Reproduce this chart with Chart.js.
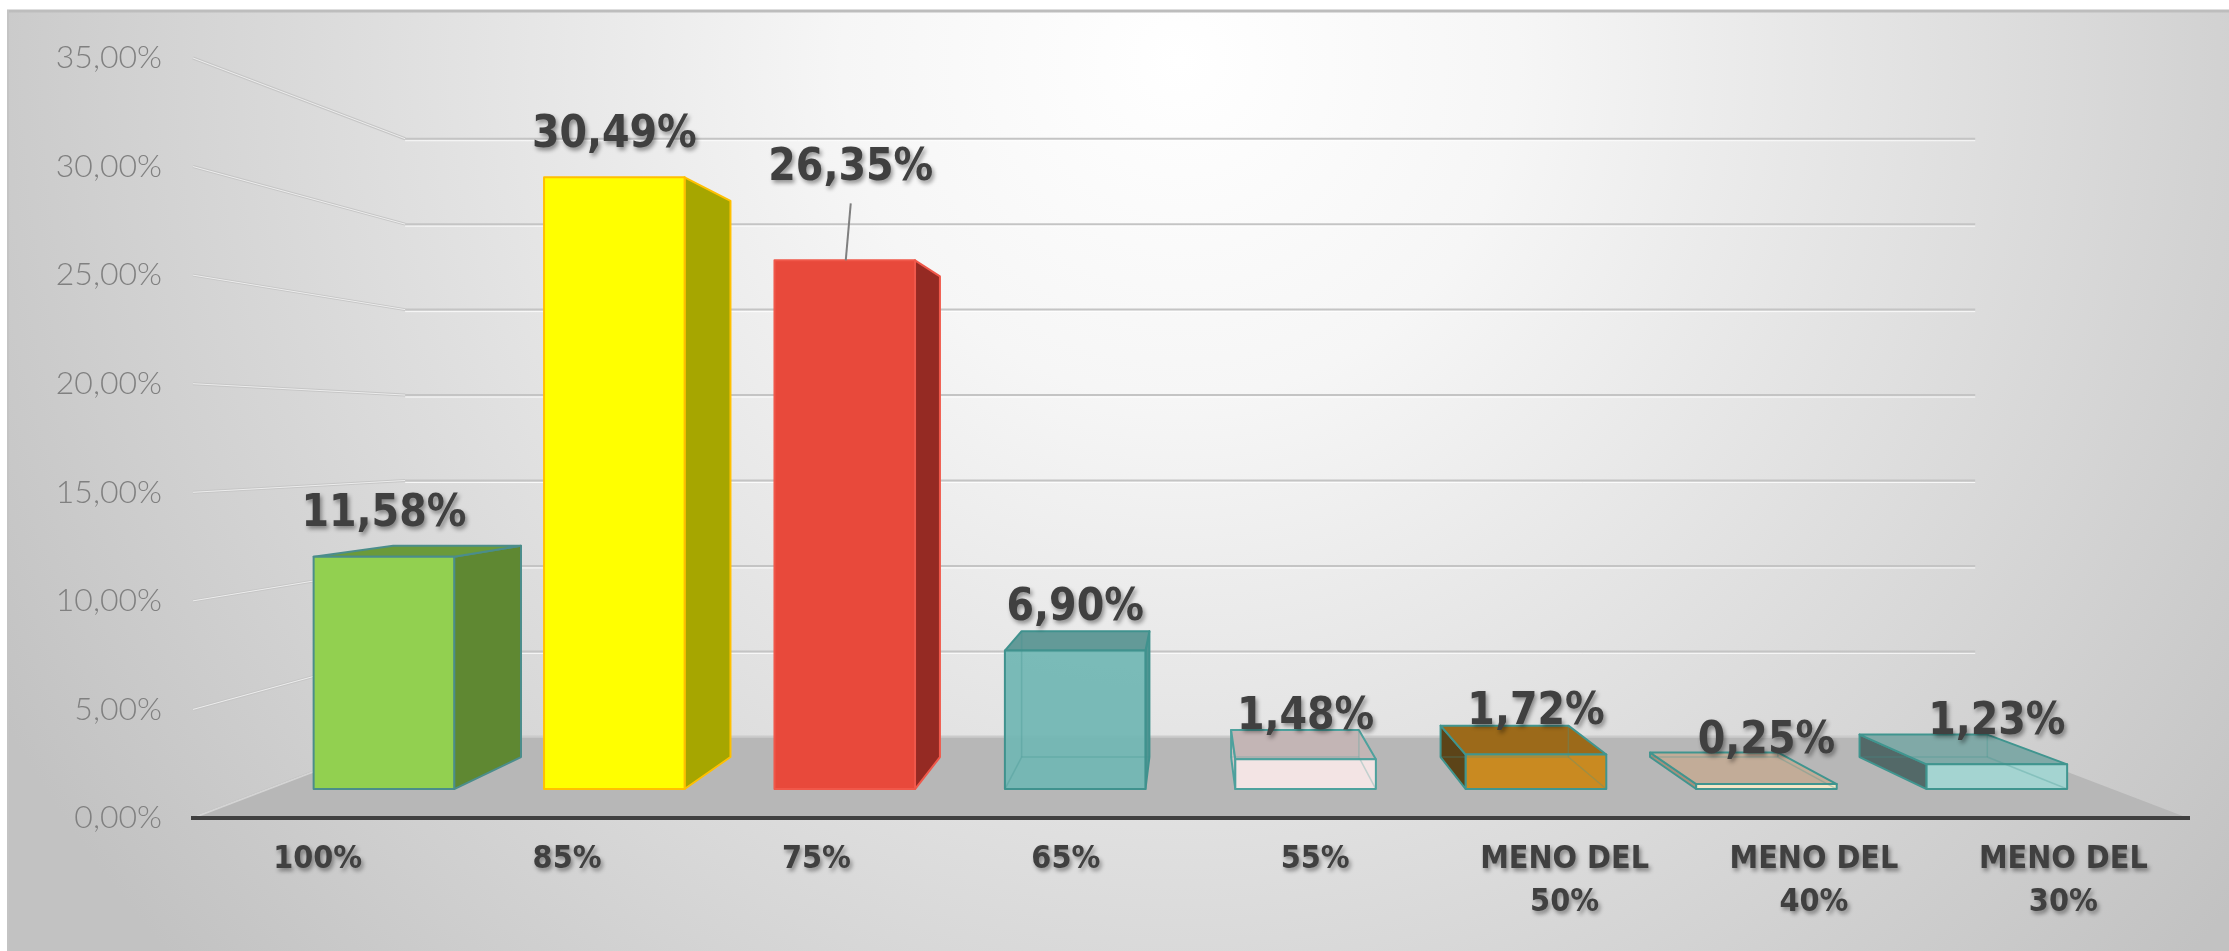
<!DOCTYPE html>
<html lang="it">
<head>
<meta charset="utf-8">
<title>Distribuzione percentuale</title>
<script src="https://cdn.jsdelivr.net/npm/chart.js@4.4.1/dist/chart.umd.min.js"></script>
<style>
  html, body { margin: 0; padding: 0; background: #ffffff; }
  #contenitore { position: relative; width: 2229px; height: 951px; }
</style>
</head>
<body>
<div id="contenitore"><canvas id="grafico"></canvas></div>
<script>
// dati
const categorie = ['100%', '85%', '75%', '65%', '55%', ['MENO DEL', '50%'], ['MENO DEL', '40%'], ['MENO DEL', '30%']];
const percentuali = [11.58, 30.49, 26.35, 6.90, 1.48, 1.72, 0.25, 1.23];
const tickY = [0, 5, 10, 15, 20, 25, 30, 35];

// colori delle barre (fronte, lato, sopra, bordo)
const coloriFronte = ['#92d050', '#ffff00', '#e8493b', 'rgba(112,182,179,0.92)', '#f3e4e4', '#c98a21', '#f6e6c6', '#a4d4d1'];
const coloriLato   = ['#5f8832', '#a6a600', '#952a23', '#4f9693', '#d2c4c4', '#5c4418', '#a8907c', '#536968'];
const coloriSopra  = ['#6b9a3a', '#c8c800', '#b83a30', '#639a98', '#c3b5b5', '#9c6a1a', '#c2ac98', '#80a9a7'];
const coloriBordo  = ['#4b8d8b', '#ffc000', '#f0584a', '#40928e', '#4ea19d', '#40958f', '#40958f', '#40958f'];

// prospettiva
const PF = { x: 1189, y: 437 };      // punto di fuga
const F_FRONTE = 0.924, F_RETRO = 0.840, F_PARETE = 0.787;

const fontCond = "'DejaVu Sans Condensed', 'Liberation Sans Narrow', 'DejaVu Sans', sans-serif";
const formatta = v => v.toFixed(2).replace('.', ',') + '%';

function proietta(x, y, f) {
    return [PF.x + (x - PF.x) * f, PF.y + (y - PF.y) * f];
}

function poligono(ctx, punti, riempi, bordo, spessore) {
    ctx.beginPath();
    ctx.moveTo(punti[0][0], punti[0][1]);
    for (let i = 1; i < punti.length; i++) ctx.lineTo(punti[i][0], punti[i][1]);
    ctx.closePath();
    if (riempi) { ctx.fillStyle = riempi; ctx.fill(); }
    if (bordo) { ctx.strokeStyle = bordo; ctx.lineWidth = spessore || 2; ctx.lineJoin = 'round'; ctx.stroke(); }
}

function linea(ctx, a, b, colore, spessore) {
    ctx.beginPath();
    ctx.moveTo(a[0], a[1]);
    ctx.lineTo(b[0], b[1]);
    ctx.strokeStyle = colore;
    ctx.lineWidth = spessore;
    ctx.stroke();
}

function disegnaScatola(ctx, el, i) {
    const x0 = el.x - el.width / 2, x1 = el.x + el.width / 2;
    const yT = el.y, yB = el.base;
    const fTL = proietta(x0, yT, F_FRONTE), fTR = proietta(x1, yT, F_FRONTE);
    const fBL = proietta(x0, yB, F_FRONTE), fBR = proietta(x1, yB, F_FRONTE);
    const bTL = proietta(x0, yT, F_RETRO), bTR = proietta(x1, yT, F_RETRO);
    const bBL = proietta(x0, yB, F_RETRO), bBR = proietta(x1, yB, F_RETRO);
    const bordo = coloriBordo[i];
    const trasparente = i >= 3;

    if (x0 > PF.x) poligono(ctx, [fTL, bTL, bBL, fBL], coloriLato[i], bordo, 2);
    if (x1 < PF.x) poligono(ctx, [fTR, bTR, bBR, fBR], coloriLato[i], bordo, 2);
    if (yT > PF.y) poligono(ctx, [fTL, fTR, bTR, bTL], coloriSopra[i], bordo, 2);
    poligono(ctx, [fTL, fTR, fBR, fBL], coloriFronte[i], bordo, 2);

    if (trasparente) {
        // spigoli nascosti visti in trasparenza
        ctx.save();
        ctx.globalAlpha = 0.3;
        const nascosto = x0 > PF.x ? [bTR, bBR] : [bTL, bBL];
        linea(ctx, nascosto[0], nascosto[1], bordo, 1.5);
        linea(ctx, bBL, bBR, bordo, 1.5);
        linea(ctx, x0 > PF.x ? fBR : fBL, x0 > PF.x ? bBR : bBL, bordo, 1.5);
        ctx.restore();
    }
}

const scena3d = {
    id: 'scena3d',
    beforeDraw(chart) {
        const ctx = chart.ctx;
        ctx.save();
        ctx.fillStyle = '#ffffff';
        ctx.fillRect(0, 0, chart.width, chart.height);
        const g = ctx.createRadialGradient(1180, 60, 0, 1180, 60, 1350);
        g.addColorStop(0, '#ffffff');
        g.addColorStop(0.25, '#f6f6f6');
        g.addColorStop(1, '#c2c2c2');
        ctx.fillStyle = g;
        ctx.fillRect(7, 10, chart.width - 7, chart.height - 10);
        linea(ctx, [7, 11], [chart.width, 11], '#bdbdbd', 3);
        linea(ctx, [8, 10], [8, chart.height], '#c4c4c4', 2);
        ctx.restore();
    },
    beforeDatasetsDraw(chart) {
        const ctx = chart.ctx;
        const area = chart.chartArea;
        const sy = chart.scales.y;
        ctx.save();
        // griglia: parete sinistra e parete di fondo
        sy.ticks.forEach(t => {
            const yF = sy.getPixelForValue(t.value);
            const a = [area.left, yF];
            const b = proietta(area.left, yF, F_PARETE);
            const c = proietta(area.right, yF, F_PARETE);
            linea(ctx, a, b, '#c6c6c6', 3);
            linea(ctx, a, b, '#ededed', 1);
            linea(ctx, b, c, '#c4c4c4', 2);
            linea(ctx, [b[0], b[1] + 2], [c[0], c[1] + 2], 'rgba(255,255,255,0.8)', 1);
        });
        // pavimento
        const y0 = sy.getPixelForValue(0);
        const pBL = [area.left, y0], pBR = [area.right, y0];
        const pTL = proietta(area.left, y0, F_PARETE), pTR = proietta(area.right, y0, F_PARETE);
        poligono(ctx, [pBL, pTL, pTR, pBR], '#b7b7b7');
        linea(ctx, pTL, pTR, '#cbcbcb', 2);
        linea(ctx, pBL, pTL, '#d4d4d4', 1.5);
        linea(ctx, [area.left - 2, y0], [area.right + 2, y0], '#404040', 4);
        // barre 3D
        const meta = chart.getDatasetMeta(0);
        meta.data.forEach((el, i) => disegnaScatola(ctx, el, i));
        ctx.restore();
    },
    afterDatasetsDraw(chart) {
        const ctx = chart.ctx;
        const meta = chart.getDatasetMeta(0);
        ctx.save();
        ctx.font = 'bold 44px ' + fontCond;
        ctx.textAlign = 'center';
        ctx.textBaseline = 'middle';
        meta.data.forEach((el, i) => {
            const cima = proietta(el.x, el.y, F_FRONTE);
            let x = cima[0], y = cima[1] - 42;
            if (i === 2) {
                // etichetta spostata con linea di richiamo
                x += 6; y -= 50;
                linea(ctx, [x, y + 35], [cima[0] + 1, cima[1]], '#7f7f7f', 2);
            }
            ctx.shadowColor = 'rgba(0,0,0,0.4)';
            ctx.shadowOffsetX = 2;
            ctx.shadowOffsetY = 3;
            ctx.shadowBlur = 4;
            ctx.fillStyle = '#404040';
            ctx.fillText(formatta(percentuali[i]), x, y);
            ctx.shadowColor = 'transparent';
        });
        ctx.restore();
    }
};

const grafico = new Chart(document.getElementById('grafico'), {
    type: 'bar',
    data: {
        labels: categorie,
        datasets: [{
            data: percentuali,
            backgroundColor: 'rgba(0,0,0,0)',
            borderWidth: 0,
            categoryPercentage: 1,
            barPercentage: 0.61
        }]
    },
    options: {
        responsive: true,
        maintainAspectRatio: false,
        animation: false,
        events: [],
        layout: { padding: { top: 58, right: 41, bottom: 0, left: 0 } },
        plugins: {
            legend: { display: false },
            tooltip: { enabled: false }
        },
        scales: {
            x: {
                grid: { display: false, drawTicks: false },
                border: { display: false },
                afterFit(s) { s.height = 133; },
                ticks: {
                    padding: 21,
                    maxRotation: 0,
                    autoSkip: false,
                    color: '#404040',
                    font: { family: fontCond, size: 32, weight: 'bold', lineHeight: 1.32 }
                }
            },
            y: {
                min: 0,
                max: 35,
                grid: { display: false, drawTicks: false },
                border: { display: false },
                afterFit(s) { s.width = 193; },
                afterBuildTicks(s) { s.ticks = tickY.map(v => ({ value: v })); },
                ticks: {
                    padding: 31,
                    color: '#808080',
                    font: { family: 'Lato', size: 32, weight: '300' },
                    callback: v => formatta(v)
                }
            }
        }
    },
    plugins: [scena3d]
});

// ombra sulle etichette dell'asse delle categorie
const scalaX = grafico.scales.x;
const etichetteOriginali = scalaX.drawLabels.bind(scalaX);
scalaX.drawLabels = function (area) {
    const ctx = this.ctx;
    ctx.save();
    ctx.shadowColor = 'rgba(0,0,0,0.4)';
    ctx.shadowOffsetX = 2;
    ctx.shadowOffsetY = 3;
    ctx.shadowBlur = 4;
    etichetteOriginali(area);
    ctx.restore();
};
grafico.draw();
</script>
</body>
</html>
